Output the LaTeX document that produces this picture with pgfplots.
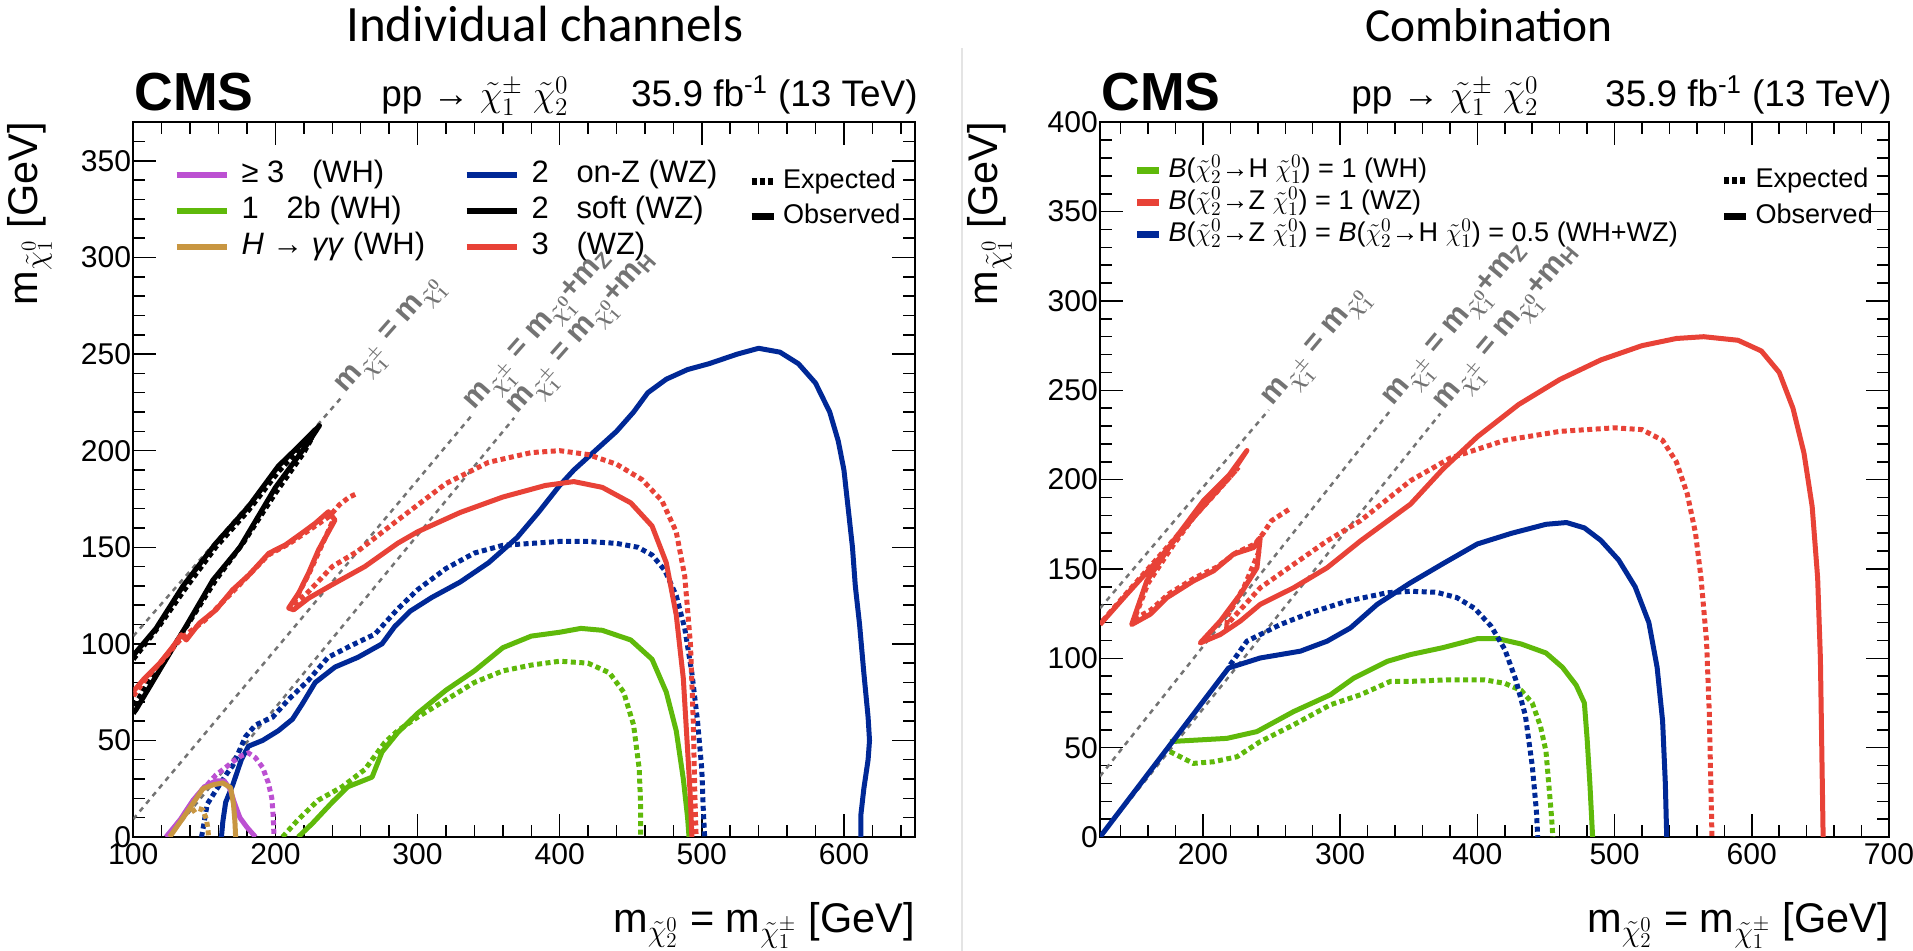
\documentclass[border=0pt]{standalone}
\usepackage{pgfplots}
\pgfplotsset{compat=1.18}
\usepackage{fontspec}
\setmainfont{Liberation Sans}
\newfontfamily\calibri{Carlito}
\definecolor{cpurple}{RGB}{188,80,210}
\definecolor{cgreen}{RGB}{95,185,10}
\definecolor{cgold}{RGB}{200,150,65}
\definecolor{cblue}{RGB}{0,40,150}
\definecolor{cred}{RGB}{232,66,55}
\definecolor{cgray}{RGB}{115,115,115}
\definecolor{csep}{RGB}{228,228,228}
\newcommand\fT{\fontsize{17.1}{20}\selectfont}
\newcommand\fAx{\fontsize{23.6}{28}\selectfont}
\newcommand\fCMS{\fontsize{30.5}{34}\selectfont\bfseries}
\newcommand\fHd{\fontsize{21}{24}\selectfont}
\newcommand\fHdM{\fontsize{22.5}{26}\selectfont}
\newcommand\fLg{\fontsize{17.6}{20}\selectfont}
\newcommand\fLgR{\fontsize{15.4}{18}\selectfont}
\newcommand\fDiag{\fontsize{17.3}{20}\selectfont\bfseries\boldmath}
\newcommand\chiz[1]{\tilde{\chi}^{0}_{#1}}
\newcommand\chip{\tilde{\chi}^{\pm}_{1}}
\pgfplotsset{
  cmsax/.style={scale only axis, axis line style={line width=0.04cm},
    tick style={black, line width=0.03cm}, tick align=inside,
    major tick length=0.46cm, minor tick length=0.24cm,
    ticklabel style={font=\fT}, /pgf/number format/assume math mode=true,
    yticklabel style={xshift=0.08cm}},
  obs/.style={line width=0.1cm, line join=round},
  expd/.style={line width=0.1cm, dash pattern=on 0.1cm off 0.07cm},
  diag/.style={cgray, line width=0.05cm, dash pattern=on 0.1cm off 0.1cm},
}
\begin{document}
\begin{tikzpicture}
\path[use as bounding box] (0,0) rectangle (38.26cm,19.02cm);
\draw[csep, line width=0.04cm] (19.24cm,0) -- (19.24cm,18.06cm);
% ---------------- LEFT -----------------
\begin{axis}[cmsax, at={(2.666cm,2.28cm)}, anchor=south west,
  width=15.634cm, height=14.294cm,
  xmin=100, xmax=650, ymin=0, ymax=370,
  xtick={100,200,...,600}, ytick={0,50,...,350},
  minor xtick={120,140,...,640}, minor ytick={10,20,...,360},
  legend columns=2, legend cell align=left,
  legend image code/.code={\draw[#1] (0cm,0cm) -- (1.0cm,0cm);},
  legend style={at={(rel axis cs:0.051,0.952)}, anchor=north west, draw=none, fill=none,
    font=\fLg, inner sep=0pt, row sep=0pt,
    nodes={inner xsep=0.24cm, inner ysep=0pt, text height=0.52cm, text depth=0.2cm}},
]
\addlegendimage{cpurple, line width=0.12cm}\addlegendentry{\makebox[4.2cm][l]{≥ 3\hspace{0.9em}(WH)}}
\addlegendimage{cblue, line width=0.12cm}\addlegendentry{2\hspace{0.9em}on-Z (WZ)}
\addlegendimage{cgreen, line width=0.12cm}\addlegendentry{\makebox[4.2cm][l]{1\hspace{0.9em}2b (WH)}}
\addlegendimage{black, line width=0.12cm}\addlegendentry{2\hspace{0.9em}soft (WZ)}
\addlegendimage{cgold, line width=0.12cm}\addlegendentry{\makebox[4.2cm][l]{\textit{H} → \textit{γγ} (WH)}}
\addlegendimage{cred, line width=0.12cm}\addlegendentry{3\hspace{0.9em}(WZ)}
% diagonals
\addplot[diag, forget plot] coordinates {(100,104) (247,228)};
\addplot[diag, forget plot] coordinates {(100,9.3) (339,219)};
\addplot[diag, forget plot] coordinates {(125,0) (368,217)};
\node[cgray, font=\fDiag, rotate=48.5, anchor=base west, inner sep=1pt] at (axis cs:248,229) {m$_{\chip}$ = m$_{\chiz{1}}$};
\node[cgray, font=\fDiag, rotate=48.5, anchor=base west, inner sep=1pt] at (axis cs:339,220) {m$_{\chip}$ = m$_{\chiz{1}}$+m$_{\mathrm{Z}}$};
\node[cgray, font=\fDiag, rotate=48.5, anchor=base west, inner sep=1pt] at (axis cs:369,218) {m$_{\chip}$ = m$_{\chiz{1}}$+m$_{\mathrm{H}}$};
% green 1l2b
\addplot[cgreen, expd, forget plot] coordinates {(205,0) (216,9) (230,19) (247,26) (263,35) (277,49) (286,55) (300,62) (320,71) (340,80) (360,86) (380,89) (400,91) (420,90) (435,85) (445,75) (452,58) (456,35) (457,15) (457,0)};
\addplot[cgreen, obs, forget plot] coordinates {(216,0) (226,7) (240,18) (251,26) (268,31) (275,44) (286,54) (300,64) (320,76) (340,86) (360,98) (380,104) (400,106) (415,108) (430,107) (450,102) (465,92) (475,75) (482,55) (487,30) (490,10) (491,0)};
% blue on-Z
\addplot[cblue, expd, forget plot] coordinates {(148,0) (149,4) (152,17) (158,24) (166,33) (170,37) (179,52) (186,58) (198,62) (209,71) (223,81) (237,93) (253,99) (270,105) (286,118) (300,128) (320,139) (340,147) (360,151) (380,152) (400,153) (420,153) (440,152) (455,150) (465,146) (474,138) (482,125) (488,108) (493,85) (497,60) (500,35) (501,15) (502,0)};
\addplot[cblue, obs, forget plot] coordinates {(162,0) (163,8) (165,18) (170,27) (176,40) (181,47) (191,50) (202,55) (212,61) (219,69) (228,80) (242,88) (258,93) (275,100) (284,109) (295,117) (310,124) (330,132) (350,142) (370,155) (385,168) (400,182) (410,190) (425,200) (440,210) (452,220) (462,230) (475,237) (490,242) (505,245) (525,250) (540,253) (555,251) (568,245) (580,235) (590,220) (596,205) (600,190) (603,170) (606,150) (608,130) (611,110) (614,85) (617,62) (618,50) (617,40) (614,25) (612,12) (612,0)};
% purple
\addplot[cpurple, expd, forget plot] coordinates {(152,27) (158,32) (165,36) (170,39) (176,42) (181,43.5) (186,41) (191,36) (195,28) (197.5,20) (198.5,10) (199,0)};
\addplot[cpurple, obs, forget plot] coordinates {(123,0) (133,9) (142,19) (150,26) (158,29) (164,29) (168,25) (171,18) (175,10) (180,5) (186,0)};
% gold
\addplot[cgold, expd, forget plot] coordinates {(141,13) (145,15) (149,14) (151.5,9) (152.5,4) (153,0)};
\addplot[cgold, obs, forget plot] coordinates {(125.6,0) (137,12) (149,25) (156,27) (163,28) (168.5,25.5) (170.5,17) (171.5,8) (172,0)};
% black soft
\addplot[black, expd, forget plot] coordinates {(100,92) (118,109) (137,129) (158,150) (181,169) (202,189) (216,200) (226,207) (220,199) (200,178) (178,153) (158,133) (140,112) (125,95) (112,82) (104,72) (100,68)};
\addplot[black, obs, forget plot] coordinates {(100,94) (116,108) (135,130) (158,152) (181,171) (202,192) (216,202) (231,213) (223,204) (200,181) (175,150) (156,133) (137,109) (119,87) (102,66) (100,64)};
% red 3l
\addplot[cred, expd, forget plot] coordinates {(100,73) (110,83) (120,91) (134,103) (150,112) (170,127) (195,146) (210,152) (230,162) (238,166) (245,172) (252,176) (258,178)};
\addplot[cred, expd, forget plot] coordinates {(240,163) (232,150) (224,137) (217,127) (212,120) (222,126) (240,140) (258,148) (286,164) (320,183) (350,194) (380,199) (400,200) (420,198) (440,193) (458,185) (472,174) (482,158) (488,135) (492,100) (494,60) (495,25) (496,0)};
\addplot[cred, obs, forget plot] coordinates {(100,75.3) (107,81.4) (118.6,90) (127.9,98.6) (133.8,104.7) (137.3,102) (146.5,110.7) (158.2,117.6) (169.8,127.9) (181.4,135.7) (195.4,146.9) (207,151.2) (218.6,157.3) (228,162.4) (237.3,168.4) (241.9,164.1) (230.3,148.6) (223.3,136.6) (216.3,126.2) (209.3,118.5) (212.8,117.6) (223.3,123.6) (239.6,130.5) (262.9,140) (286.1,152.1) (300,158) (330,168) (360,176) (390,182) (410,184) (430,181) (450,173) (465,161) (475,142) (482,115) (487,82) (490,45) (492,20) (493,0)};
\end{axis}
\begin{axis}[scale only axis, hide axis, at={(2.666cm,2.28cm)}, anchor=south west,
  width=15.634cm, height=14.294cm, xmin=0, xmax=1, ymin=0, ymax=1,
  legend cell align=left,
  legend image code/.code={\draw[#1] (0cm,0cm) -- (0.44cm,0cm);},
  legend style={at={(rel axis cs:0.786,0.942)}, anchor=north west, draw=none, fill=none,
    font=\fLgR, inner sep=0pt, row sep=0pt,
    nodes={inner xsep=0.12cm, inner ysep=0pt, text height=0.48cm, text depth=0.22cm}},
]
\addlegendimage{black, line width=0.14cm, dash pattern=on 0.1cm off 0.06cm}\addlegendentry{Expected}
\addlegendimage{black, line width=0.14cm}\addlegendentry{Observed}
\end{axis}
% ---------------- RIGHT -----------------
\begin{axis}[cmsax, at={(22.0cm,2.28cm)}, anchor=south west,
  width=15.78cm, height=14.294cm,
  xmin=125, xmax=700, ymin=0, ymax=400,
  xtick={200,300,...,700}, ytick={0,50,...,400},
  minor xtick={140,160,...,680}, minor ytick={10,20,...,390},
  legend cell align=left,
  legend image code/.code={\draw[#1] (0cm,0cm) -- (0.44cm,0cm);},
  legend style={at={(rel axis cs:0.042,0.956)}, anchor=north west, draw=none, fill=none,
    font=\fLgR, inner sep=0pt, row sep=0pt,
    nodes={inner xsep=0.12cm, inner ysep=0pt, text height=0.46cm, text depth=0.18cm}},
]
\addlegendimage{cgreen, line width=0.14cm}\addlegendentry{\textit{B}($\chiz{2}$→H $\chiz{1}$) = 1 (WH)}
\addlegendimage{cred, line width=0.14cm}\addlegendentry{\textit{B}($\chiz{2}$→Z $\chiz{1}$) = 1 (WZ)}
\addlegendimage{cblue, line width=0.14cm}\addlegendentry{\textit{B}($\chiz{2}$→Z $\chiz{1}$) = \textit{B}($\chiz{2}$→H $\chiz{1}$) = 0.5 (WH+WZ)}
\addplot[diag, forget plot] coordinates {(125,128) (248,239)};
\addplot[diag, forget plot] coordinates {(125,34) (336.7,238.8)};
\addplot[diag, forget plot] coordinates {(125,0) (373,237)};
\node[cgray, font=\fDiag, rotate=50, anchor=base west, inner sep=1pt] at (axis cs:250,240) {m$_{\chip}$ = m$_{\chiz{1}}$};
\node[cgray, font=\fDiag, rotate=50, anchor=base west, inner sep=1pt] at (axis cs:338,240) {m$_{\chip}$ = m$_{\chiz{1}}$+m$_{\mathrm{Z}}$};
\node[cgray, font=\fDiag, rotate=50, anchor=base west, inner sep=1pt] at (axis cs:375,238) {m$_{\chip}$ = m$_{\chiz{1}}$+m$_{\mathrm{H}}$};
% green
\addplot[cgreen, expd, forget plot] coordinates {(176,47.8) (193,41.2) (207.7,42.1) (224.8,44.9) (241.8,53.4) (266.1,62.8) (292.9,74) (314.8,79.6) (336.7,87.1) (351.3,87.1) (380,88) (405,88) (420,86) (432,82) (440,75) (446,62) (450,48) (452,30) (454,12) (455,0)};
\addplot[cgreen, obs, forget plot] coordinates {(176,53.4) (217.5,55.2) (239.4,59) (266.1,70.2) (292.9,79.6) (309.9,88.9) (334.3,98.3) (351.3,102.1) (375,106) (400,111) (415,111) (432,108) (450,103) (462,95) (472,85) (478,75) (480,55) (482,30) (484,0)};
% blue
\addplot[cblue, expd, forget plot] coordinates {(219.9,96.4) (232.1,109.6) (256.4,118.9) (278.3,125.5) (305.1,132) (334.3,136.7) (351.3,137.5) (370,137) (385,134) (398,128) (410,118) (420,105) (428,88) (435,68) (440,40) (443,15) (444,0)};
\addplot[cblue, obs, forget plot] coordinates {(125,0) (218.7,94.6) (241.8,100.2) (271,104) (290.5,109.6) (307.5,117) (327,130.2) (351.3,142.3) (375,153) (400,164) (425,170) (450,175) (465,176) (478,173) (490,166) (503,155) (515,140) (525,120) (531,95) (535,65) (537,30) (538,0)};
% red
\addplot[cred, expd, forget plot] coordinates {(127,121) (145,137) (168,157) (192,178) (210,193) (226,207) (218,200) (199,185) (178,163) (160,142) (150,122) (162,127) (175,136) (194,145) (210,151) (224,159) (238,164) (244,170) (250,177) (258,181) (264,184)};
\addplot[cred, expd, forget plot] coordinates {(241,160) (230,140) (218,124) (217.5,118.9) (241.8,139.5) (266.1,152.6) (290.5,165.7) (314.8,177) (351.3,199.4) (380,212) (420,222) (460,227) (500,229) (520,228) (535,222) (545,210) (553,192) (559,170) (563,145) (567,110) (569,70) (570,35) (571,0)};
\addplot[cred, obs, forget plot] coordinates {(125,118.9) (144.5,135.8) (168.8,156.4) (193.1,178.8) (212.6,195.7) (232.1,216.3) (222.3,205) (200.4,188.2) (178.5,165.7) (159.1,143.3) (148.1,118.9) (161.5,124.6) (173.7,133.9) (193.1,143.3) (207.7,148.9) (222.3,158.3) (236.9,162) (241.8,167.6) (239.4,150.7) (227.2,135.8) (212.6,120.8) (198,108.6) (212.6,113.3) (227.2,120.8) (241.8,130.2) (266.1,139.5) (290.5,150.7) (314.8,165.7) (351.3,186.3) (375,206) (400,224) (430,242) (460,256) (490,267) (520,275) (545,279) (565,280) (590,278) (607,272) (620,260) (630,240) (638,215) (644,185) (648,145) (650,100) (651,50) (652,0)};
\end{axis}
\begin{axis}[scale only axis, hide axis, at={(22.0cm,2.28cm)}, anchor=south west,
  width=15.78cm, height=14.294cm, xmin=0, xmax=1, ymin=0, ymax=1,
  legend cell align=left,
  legend image code/.code={\draw[#1] (0cm,0cm) -- (0.44cm,0cm);},
  legend style={at={(rel axis cs:0.786,0.944)}, anchor=north west, draw=none, fill=none,
    font=\fLgR, inner sep=0pt, row sep=0pt,
    nodes={inner xsep=0.12cm, inner ysep=0pt, text height=0.5cm, text depth=0.22cm}},
]
\addlegendimage{black, line width=0.14cm, dash pattern=on 0.1cm off 0.06cm}\addlegendentry{Expected}
\addlegendimage{black, line width=0.14cm}\addlegendentry{Observed}
\end{axis}
% ---------------- TEXT -----------------
\node[font={\calibri\fontsize{29}{32}\selectfont}, anchor=base] at (10.9cm,18.18cm) {Individual channels};
\node[font={\calibri\fontsize{27}{30}\selectfont}, anchor=base] at (29.78cm,18.18cm) {Combination};
\node[font=\fCMS, anchor=base west, inner sep=0pt] at (2.68cm,16.81cm) {CMS};
\node[font=\fCMS, anchor=base west, inner sep=0pt] at (22.02cm,16.81cm) {CMS};
\node[font=\fHd, anchor=base west, inner sep=0pt] at (7.62cm,16.88cm) {pp → {\fHdM$\chip\;\chiz{2}$}};
\node[font=\fHd, anchor=base west, inner sep=0pt] at (27.02cm,16.88cm) {pp → {\fHdM$\chip\;\chiz{2}$}};
\node[font=\fHd, anchor=base east, inner sep=0pt] at (18.36cm,16.88cm) {35.9 fb\textsuperscript{-1} (13 TeV)};
\node[font=\fHd, anchor=base east, inner sep=0pt] at (37.84cm,16.88cm) {35.9 fb\textsuperscript{-1} (13 TeV)};
\node[font=\fAx, anchor=base east, inner sep=0pt] at (18.3cm,0.36cm) {m$_{\chiz{2}}$ = m$_{\chip}$ [GeV]};
\node[font=\fAx, anchor=base east, inner sep=0pt] at (37.78cm,0.36cm) {m$_{\chiz{2}}$ = m$_{\chip}$ [GeV]};
\node[font=\fAx, anchor=base east, inner sep=0pt, rotate=90] at (0.74cm,16.58cm) {m$_{\chiz{1}}$ [GeV]};
\node[font=\fAx, anchor=base east, inner sep=0pt, rotate=90] at (19.94cm,16.58cm) {m$_{\chiz{1}}$ [GeV]};
\end{tikzpicture}
\end{document}
